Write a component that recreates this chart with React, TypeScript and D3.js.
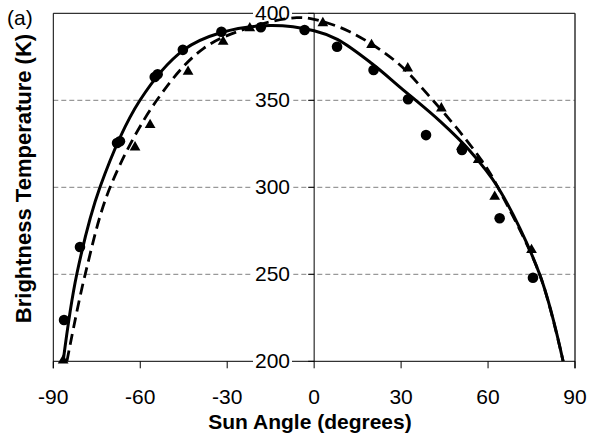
import React from "react";
import * as d3 from "d3";

// Observed data points
const circleAngle = [-86.3, -80.8, -68, -67, -55, -54, -45.3, -32, -18.4, -3.3, 7.9, 20.5, 32.4, 38.6, 51, 64, 75.5];
const circleTemp = [223.7, 265.7, 325.5, 326.5, 363.4, 365, 379, 389.4, 392, 390.4, 380.8, 367.4, 350.6, 330, 321.4, 282.2, 248];

const triAngle = [-86.6, -61.8, -56.6, -43.5, -31.4, -22.2, 3, 19.8, 32.3, 43.9, 50.8, 56.6, 62.3, 75];
const triTemp = [200.5, 323, 335.8, 366.5, 383.7, 391.5, 394.4, 381.8, 368.4, 345.4, 323.3, 315.7, 294.6, 264];

// Fit curves
const solidAngle = [-86.6, -81.9, -73.9, -60.1, -45, -32, -15, 0, 8, 20, 30, 43.4, 53.7, 63.4, 77.8, 85.9];
const solidTemp = [200, 250, 300, 350, 379, 389, 393, 390, 385, 371, 357, 338, 321, 300, 250, 200];

const dashAngle = [-85.3, -79, -70.4, -54.3, -38, -20, -6, 0, 12.3, 28.4, 39.9, 52.6, 60, 63.4, 77.8, 85.9];
const dashTemp = [200, 250, 300, 350, 380, 393, 397.5, 396.5, 389.4, 372, 352, 327, 310, 300, 250, 200];

const xTicks = [-90, -60, -30, 0, 30, 60, 90];
const yTicks = [200, 250, 300, 350, 400];
const gridTicks = [250, 300, 350];

export default function App() {
  const W = 590, H = 444;
  const left = 53.3, right = 575, top = 13.3, bottom = 361.3;
  const x = d3.scaleLinear().domain([-90, 90]).range([left, right]);
  const y = d3.scaleLinear().domain([200, 400]).range([bottom, top]);
  const font = "'Liberation Sans', Arial, sans-serif";

  const line = d3.line<[number, number]>()
    .x(d => x(d[0]))
    .y(d => y(d[1]))
    .curve(d3.curveCatmullRom.alpha(0.5));

  const solidPts = solidAngle.map((a, i) => [a, solidTemp[i]] as [number, number]);
  const dashPts = dashAngle.map((a, i) => [a, dashTemp[i]] as [number, number]);
  const tri = d3.symbol().type(d3.symbolTriangle).size(50)();
  const x0 = x(0);

  return (
    <svg width={W} height={H} style={{ position: "absolute", left: 0, top: 0, background: "#fff" }}>
      <defs>
        <clipPath id="plot">
          <rect x={left} y={top} width={right - left} height={bottom - top} />
        </clipPath>
      </defs>
      {/* gridlines */}
      {gridTicks.map(t => (
        <line key={t} x1={left} x2={right} y1={y(t)} y2={y(t)} stroke="#808080" strokeWidth={1} strokeDasharray="5,3" />
      ))}
      {/* frame */}
      <line x1={left} x2={right} y1={top} y2={top} stroke="#000" strokeWidth={1} />
      <line x1={left} x2={left} y1={top} y2={bottom + 7} stroke="#000" strokeWidth={1} />
      <line x1={right} x2={right} y1={top} y2={bottom + 7} stroke="#333" strokeWidth={1.5} />
      <line x1={left} x2={right} y1={bottom} y2={bottom} stroke="#000" strokeWidth={1} />
      <line x1={x0} x2={x0} y1={top} y2={bottom} stroke="#000" strokeWidth={1} />
      {/* x ticks */}
      {xTicks.map(t => (
        <g key={t}>
          <line x1={x(t)} x2={x(t)} y1={bottom} y2={bottom + 7} stroke="#000" strokeWidth={1} />
          <text x={x(t)} y={398} textAnchor="middle" dominantBaseline="middle" fontFamily={font} fontSize={21} fill="#000">{t}</text>
        </g>
      ))}
      {/* y ticks at x=0 axis */}
      {yTicks.map(t => (
        <g key={t}>
          <line x1={x0 - 6} x2={x0} y1={y(t)} y2={y(t)} stroke="#000" strokeWidth={1} />
          <rect x={253} y={y(t) - 9} width={39} height={18} fill="#fff" />
          <text x={290} y={y(t) + 1} textAnchor="end" dominantBaseline="middle" fontFamily={font} fontSize={21} fill="#000">{t}</text>
        </g>
      ))}
      {/* curves */}
      <g clipPath="url(#plot)">
        <path d={line(dashPts) || ""} fill="none" stroke="#000" strokeWidth={2.8} strokeDasharray="11,6" />
        <path d={line(solidPts) || ""} fill="none" stroke="#000" strokeWidth={3} />
      </g>
      {/* markers */}
      {circleAngle.map((a, i) => (
        <circle key={"c" + i} cx={x(a)} cy={y(circleTemp[i])} r={5.3} fill="#000" />
      ))}
      {triAngle.map((a, i) => (
        <path key={"t" + i} d={tri || ""} transform={`translate(${x(a)},${y(triTemp[i])})`} fill="#000" />
      ))}
      {/* titles */}
      <text x={310} y={429} textAnchor="middle" fontFamily={font} fontSize={21} fontWeight="bold" fill="#000">Sun Angle (degrees)</text>
      <text transform="translate(31,178.5) rotate(-90)" textAnchor="middle" fontFamily={font} fontSize={22} fontWeight="bold" fill="#000">Brightness Temperature (K)</text>
      <text x={7} y={25} fontFamily={font} fontSize={21} fill="#000">(a)</text>
    </svg>
  );
}
